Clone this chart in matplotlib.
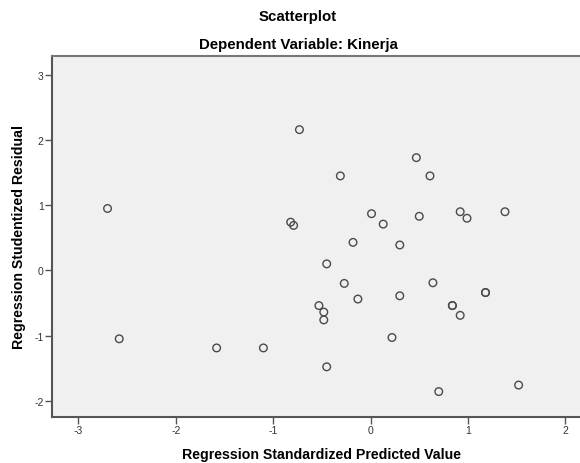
import matplotlib
matplotlib.use("Agg")
import matplotlib.pyplot as plt

# standardized predicted value (x) and studentized residual (y)
pred = [-2.70, -2.58, -1.58, -1.10, -0.73, -0.82, -0.79, -0.31, 0.47, 0.61,
        0.01, 0.50, 0.13, 0.92, 0.99, 1.38, -0.18, 0.30, -0.45, -0.27,
        0.64, 1.18, 1.18, -0.13, 0.30, -0.53, -0.48, -0.48, 0.84, 0.84,
        0.92, 0.22, -0.45, 1.52, 0.70]
resid = [0.95, -1.05, -1.19, -1.19, 2.16, 0.74, 0.69, 1.45, 1.73, 1.45,
         0.87, 0.83, 0.71, 0.90, 0.80, 0.90, 0.43, 0.39, 0.10, -0.20,
         -0.19, -0.34, -0.34, -0.44, -0.39, -0.54, -0.64, -0.76, -0.54, -0.54,
         -0.69, -1.03, -1.48, -1.76, -1.86]

x_ticks = [-3, -2, -1, 0, 1, 2]
y_ticks = [-2, -1, 0, 1, 2, 3]

plt.rcParams['font.family'] = ['Liberation Sans', 'DejaVu Sans']
plt.rcParams['axes.unicode_minus'] = False

fig = plt.figure(figsize=(5.8, 4.64), dpi=100)
ax = fig.add_axes([52 / 580, 46 / 464, 1 - 52 / 580, 361 / 464])
ax.set_facecolor("#f0f0f0")

ax.scatter(pred, resid, s=30, facecolors="none", edgecolors="#4a4a4a", linewidths=1.0, zorder=3)

ax.set_xlim(-3.27, 2.15)
ax.set_ylim(-2.25, 3.29)
ax.set_xticks(x_ticks)
ax.set_yticks(y_ticks)
ax.tick_params(direction="out", length=5, width=1, colors="#555555", labelsize=7.5, labelcolor="#333333", pad=1)

for side in ["left", "bottom"]:
    ax.spines[side].set_color("#555555")
    ax.spines[side].set_linewidth(1.5)
ax.spines["top"].set_color("#777777")
ax.spines["top"].set_linewidth(1.5)
ax.spines["right"].set_visible(False)

fig.text(298 / 580, 1 - 17 / 464, "Scatterplot", ha="center", va="center", fontsize=10.8, fontweight="bold")
fig.text(298 / 580, 1 - 45 / 464, "Dependent Variable: Kinerja", ha="center", va="center", fontsize=10.8, fontweight="bold")
fig.text(321 / 580, 1 - 455 / 464, "Regression Standardized Predicted Value", ha="center", va="center", fontsize=10.2, fontweight="bold")
fig.text(19 / 580, 1 - 237 / 464, "Regression Studentized Residual", ha="center", va="center", rotation=90, fontsize=10.2, fontweight="bold")

fig.savefig("out.png", dpi=100)
